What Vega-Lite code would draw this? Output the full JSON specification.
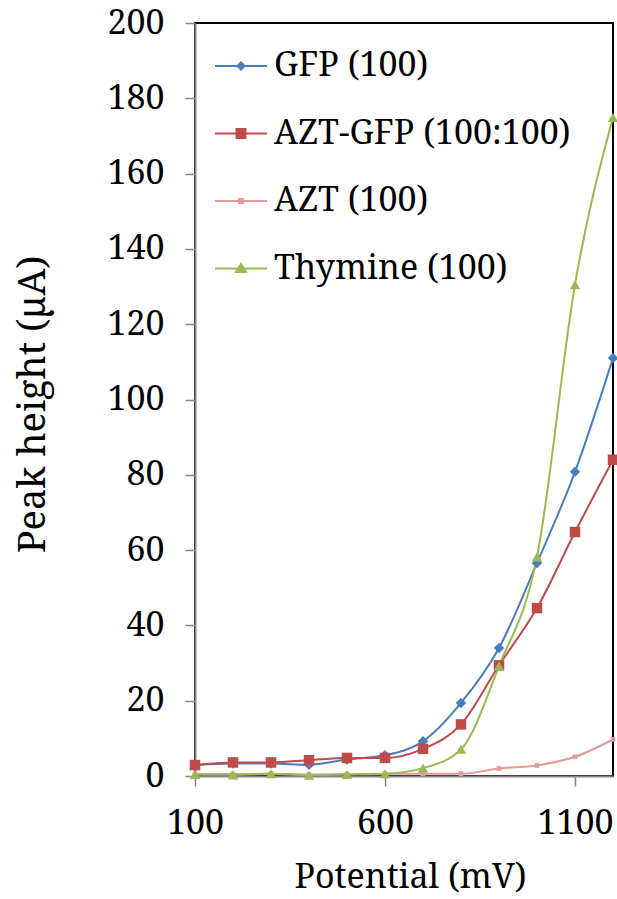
{
  "$schema": "https://vega.github.io/schema/vega-lite/v6.json",
  "width": 418,
  "height": 753,
  "autosize": {"type": "none"},
  "padding": {"left": 195, "top": 23, "right": 4, "bottom": 123},
  "background": "#ffffff",
  "config": {
    "font": "Noto Serif",
    "view": {"stroke": "#000000", "strokeWidth": 2}
  },
  "data": {
    "values": [
      {"series": "GFP (100)", "potential": 100, "peak": 2.9},
      {"series": "GFP (100)", "potential": 200, "peak": 3.3},
      {"series": "GFP (100)", "potential": 300, "peak": 3.3},
      {"series": "GFP (100)", "potential": 400, "peak": 3.0},
      {"series": "GFP (100)", "potential": 500, "peak": 4.4},
      {"series": "GFP (100)", "potential": 600, "peak": 5.5},
      {"series": "GFP (100)", "potential": 700, "peak": 9.2},
      {"series": "GFP (100)", "potential": 800, "peak": 19.4},
      {"series": "GFP (100)", "potential": 900, "peak": 34.0},
      {"series": "GFP (100)", "potential": 1000, "peak": 56.6},
      {"series": "GFP (100)", "potential": 1100, "peak": 80.8},
      {"series": "GFP (100)", "potential": 1200, "peak": 111.0},
      {"series": "AZT-GFP (100:100)", "potential": 100, "peak": 2.9},
      {"series": "AZT-GFP (100:100)", "potential": 200, "peak": 3.6},
      {"series": "AZT-GFP (100:100)", "potential": 300, "peak": 3.6},
      {"series": "AZT-GFP (100:100)", "potential": 400, "peak": 4.2},
      {"series": "AZT-GFP (100:100)", "potential": 500, "peak": 4.8},
      {"series": "AZT-GFP (100:100)", "potential": 600, "peak": 4.8},
      {"series": "AZT-GFP (100:100)", "potential": 700, "peak": 7.2},
      {"series": "AZT-GFP (100:100)", "potential": 800, "peak": 13.7},
      {"series": "AZT-GFP (100:100)", "potential": 900, "peak": 29.4},
      {"series": "AZT-GFP (100:100)", "potential": 1000, "peak": 44.6},
      {"series": "AZT-GFP (100:100)", "potential": 1100, "peak": 64.8},
      {"series": "AZT-GFP (100:100)", "potential": 1200, "peak": 84.0},
      {"series": "AZT (100)", "potential": 100, "peak": 0.5},
      {"series": "AZT (100)", "potential": 200, "peak": 0.5},
      {"series": "AZT (100)", "potential": 300, "peak": 0.6},
      {"series": "AZT (100)", "potential": 400, "peak": 0.4},
      {"series": "AZT (100)", "potential": 500, "peak": 0.5},
      {"series": "AZT (100)", "potential": 600, "peak": 0.6},
      {"series": "AZT (100)", "potential": 700, "peak": 0.6},
      {"series": "AZT (100)", "potential": 800, "peak": 0.6},
      {"series": "AZT (100)", "potential": 900, "peak": 2.0},
      {"series": "AZT (100)", "potential": 1000, "peak": 2.8},
      {"series": "AZT (100)", "potential": 1100, "peak": 5.1},
      {"series": "AZT (100)", "potential": 1200, "peak": 9.7},
      {"series": "Thymine (100)", "potential": 100, "peak": 0.4},
      {"series": "Thymine (100)", "potential": 200, "peak": 0.3},
      {"series": "Thymine (100)", "potential": 300, "peak": 0.6},
      {"series": "Thymine (100)", "potential": 400, "peak": 0.2},
      {"series": "Thymine (100)", "potential": 500, "peak": 0.4},
      {"series": "Thymine (100)", "potential": 600, "peak": 0.6},
      {"series": "Thymine (100)", "potential": 700, "peak": 2.1},
      {"series": "Thymine (100)", "potential": 800, "peak": 7.1},
      {"series": "Thymine (100)", "potential": 900, "peak": 29.2},
      {"series": "Thymine (100)", "potential": 1000, "peak": 58.2},
      {"series": "Thymine (100)", "potential": 1100, "peak": 130.5},
      {"series": "Thymine (100)", "potential": 1200, "peak": 174.9}
    ]
  },
  "encoding": {
    "x": {
      "field": "potential",
      "type": "quantitative",
      "scale": {"domain": [100, 1200], "nice": false, "zero": false},
      "axis": {
        "values": [100, 600, 1100],
        "format": "d",
        "title": "Potential (mV)",
        "grid": false,
        "domainColor": "#868686",
        "domainWidth": 2,
        "tickColor": "#868686",
        "tickWidth": 1.5,
        "tickSize": 10,
        "labelFont": "Noto Serif",
        "labelFontSize": 34,
        "labelColor": "#000000",
        "labelBaseline": "alphabetic",
        "labelPadding": 47,
        "labelFlush": false,
        "labelOverlap": false,
        "titleFont": "Noto Serif",
        "titleFontSize": 34,
        "titleFontWeight": "normal",
        "titleColor": "#000000",
        "titleBaseline": "alphabetic",
        "titleX": 215,
        "titleY": 111
      }
    },
    "y": {
      "field": "peak",
      "type": "quantitative",
      "scale": {"domain": [0, 200], "nice": false},
      "axis": {
        "values": [0, 20, 40, 60, 80, 100, 120, 140, 160, 180, 200],
        "format": "d",
        "title": "Peak height (µA)",
        "grid": false,
        "domainColor": "#868686",
        "domainWidth": 2,
        "tickColor": "#868686",
        "tickWidth": 1.5,
        "tickSize": 10,
        "labelFont": "Noto Serif",
        "labelFontSize": 34,
        "labelColor": "#000000",
        "labelPadding": 21,
        "labelFlush": false,
        "labelOverlap": false,
        "titleFont": "Noto Serif",
        "titleFontSize": 38,
        "titleFontWeight": "normal",
        "titleColor": "#000000",
        "titleAngle": -90,
        "titleAlign": "center",
        "titleBaseline": "middle",
        "titleX": -162,
        "titleY": 381
      }
    }
  },
  "layer": [
    {
      "mark": {"type": "line", "interpolate": "monotone", "strokeWidth": 2},
      "encoding": {
        "color": {
          "field": "series",
          "type": "nominal",
          "sort": null,
          "scale": {
            "domain": ["GFP (100)", "AZT-GFP (100:100)", "AZT (100)", "Thymine (100)"],
            "range": ["#4A7EBB", "#BE4B48", "#E39A98", "#98B954"]
          },
          "legend": {
            "title": null,
            "orient": "none",
            "legendX": 19,
            "legendY": 16,
            "padding": 0,
            "symbolSize": 2704,
            "symbolType": "M-1,0L1,0",
            "labelFont": "Noto Serif",
            "labelFontSize": 34,
            "labelColor": "#000000",
            "labelOffset": 6,
            "labelLimit": 400,
            "rowPadding": 23.5,
            "encode": {
              "symbols": {
                "update": {
                  "shape": {"signal": "datum.value === 'GFP (100)' ? 'M-1,0L1,0M0,-0.14L0.14,0L0,0.14L-0.14,0Z' : datum.value === 'AZT-GFP (100:100)' ? 'M-1,0L1,0M-0.17,-0.17L0.17,-0.17L0.17,0.17L-0.17,0.17Z' : datum.value === 'AZT (100)' ? 'M-1,0L1,0M-0.08,-0.08L0.08,-0.08L0.08,0.08L-0.08,0.08Z' : 'M-1,0L1,0M0,-0.18L0.19,0.13L-0.19,0.13Z'"},
                  "fill": {"signal": "scale('color', datum.value)"},
                  "stroke": {"signal": "scale('color', datum.value)"},
                  "strokeWidth": {"value": 2},
                  "opacity": {"value": 1}
                }
              }
            }
          }
        }
      }
    },
    {
      "transform": [{"filter": "datum.series === 'GFP (100)'"}],
      "mark": {"type": "point", "filled": true, "opacity": 1, "shape": "diamond", "size": 110, "color": "#4A7EBB"}
    },
    {
      "transform": [{"filter": "datum.series === 'AZT-GFP (100:100)'"}],
      "mark": {"type": "point", "filled": true, "opacity": 1, "shape": "square", "size": 110, "color": "#BE4B48"}
    },
    {
      "transform": [{"filter": "datum.series === 'AZT (100)'"}],
      "mark": {"type": "point", "filled": true, "opacity": 1, "shape": "square", "size": 22, "color": "#E39A98"}
    },
    {
      "transform": [{"filter": "datum.series === 'Thymine (100)'"}],
      "mark": {"type": "point", "filled": true, "opacity": 1, "shape": "triangle-up", "size": 110, "color": "#98B954"}
    }
  ]
}
